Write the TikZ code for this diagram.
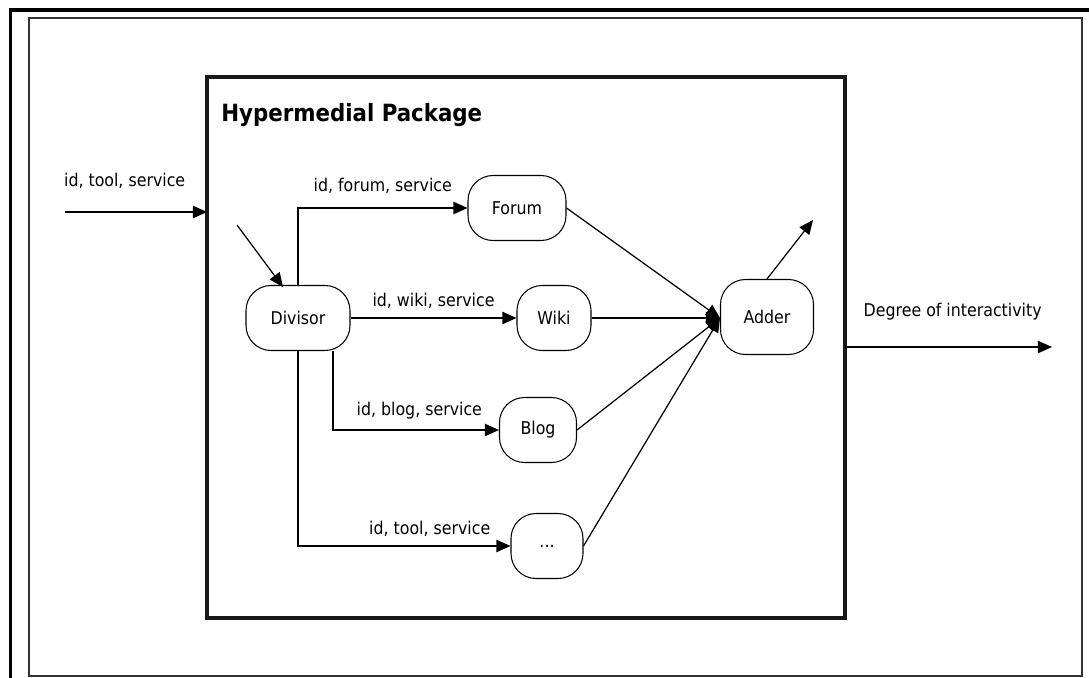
\documentclass[tikz,border=0pt]{standalone}
\usepackage{fontspec}
\setmainfont{DejaVu Sans Condensed}
\usepackage{tikz}
\usetikzlibrary{arrows.meta,positioning}

\begin{document}
\begin{tikzpicture}[x=0.02cm,y=-0.02cm,
  block/.style={rectangle,rounded corners=0.5cm,draw,line width=0.6pt,minimum height=1.3cm,font=\fontsize{10}{12}\selectfont},
  lbl/.style={font=\fontsize{10}{12}\selectfont,inner sep=1pt},
  flow/.style={-{Triangle[length=8pt,width=7pt]},line width=0.7pt}]
\useasboundingbox (0,0) rectangle (1089,677);

% Frames
\draw[line width=2.2pt] (10.5,680) -- (10.5,10) -- (1092,10);
\draw[line width=1.2pt,black!80] (29,18) rectangle (1082,676);

% Package box
\draw[line width=1.8pt,black!90] (207,77) rectangle (845,618);
\node[anchor=base west,font=\fontsize{13.5}{16}\bfseries\selectfont,inner sep=0pt] (title) at (221,121) {Hypermedial Package};

% Nodes
\node[block,minimum width=2.08cm] (divisor) at (298,318) {Divisor};
\node[block,minimum width=1.96cm] (forum) at (517,208) {Forum};
\node[block,minimum width=1.48cm] (wiki) at (554,318) {Wiki};
\node[block,minimum width=1.54cm] (blog) at (538,430) {Blog};
\node[block,minimum width=1.44cm] (more) at (547,546) {...};
\node[block,minimum width=1.86cm,minimum height=1.5cm] (adder) at (767,317) {Adder};

% Free ends
\coordinate (in) at (65,212);
\coordinate (inbox) at (207,212);
\coordinate (feed) at (237,225);
\coordinate (dtop) at (283,287);
\coordinate (up) at (813,220);
\coordinate (outbox) at (845,347);
\coordinate (out) at (1052,347);
\coordinate (sum) at (720,318);

% Connections
\draw[flow] (in) -- node[lbl,pos=0.42,above=12pt] {id, tool, service} (inbox);
\draw[flow] (feed) -- (dtop);
\draw[flow] (divisor.north) |- node[lbl,pos=0.75,above=7pt] {id, forum, service} (forum.west);
\draw[flow] (divisor.east) -- node[lbl,above=4pt] {id, wiki, service} (wiki.west);
\draw[flow] ([xshift=35*0.02cm]divisor.south) |- node[lbl,pos=0.76,above=5pt] {id, blog, service} (blog.west);
\draw[flow] (divisor.south) |- node[lbl,pos=0.81,above=4pt] {id, tool, service} (more.west);

\draw[flow] (forum.east) -- (sum);
\draw[flow] (wiki.east) -- (sum);
\draw[flow] (blog.east) -- (sum);
\draw[flow] (more.east) -- (sum);

\draw[flow] (adder.north) -- (up);
\draw[flow] (outbox) -- node[lbl,pos=0.52,above=14pt] {Degree of interactivity} (out);
\end{tikzpicture}
\end{document}
